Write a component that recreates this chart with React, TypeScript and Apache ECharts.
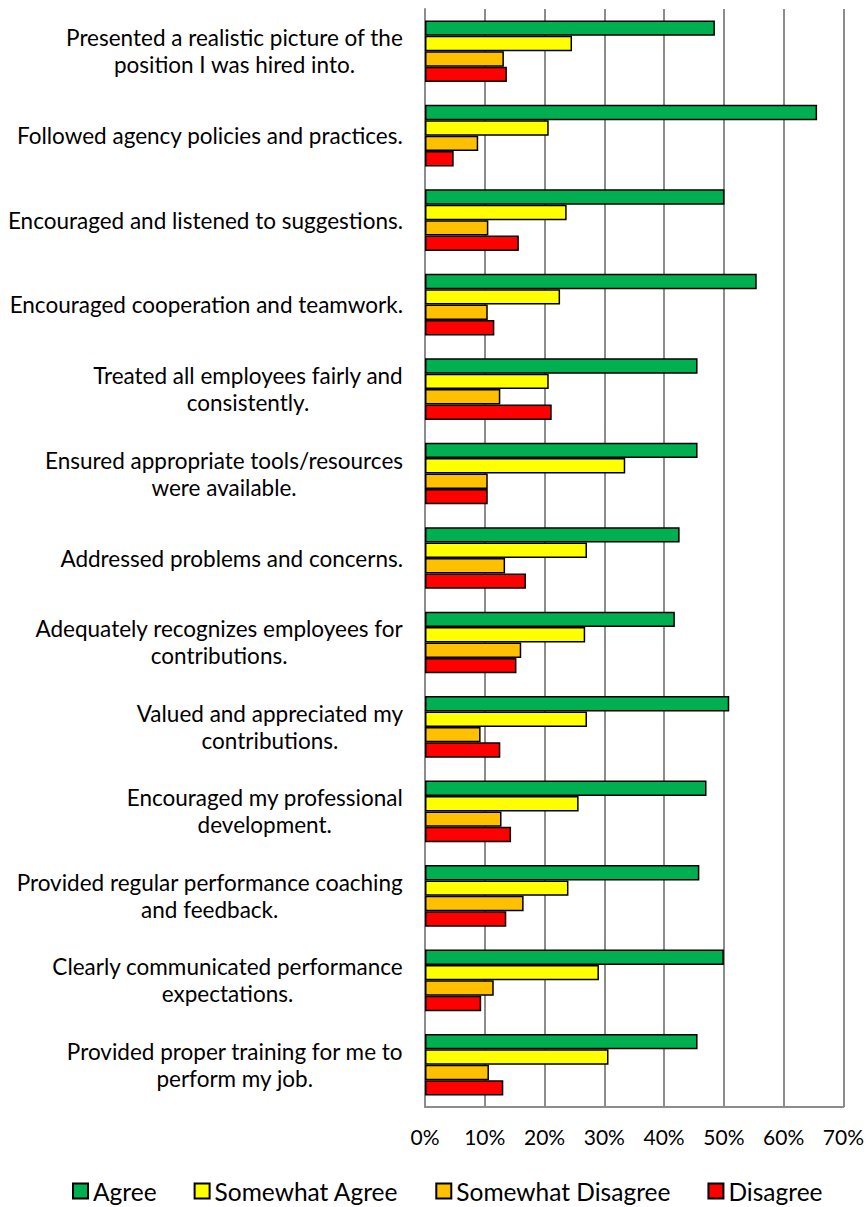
import React, { useEffect, useRef } from "react";
import * as echarts from "echarts";

const categories: string[] = [
  "Presented a realistic picture of the\nposition I was hired into.",
  "Followed agency policies and practices.",
  "Encouraged and listened to suggestions.",
  "Encouraged cooperation and teamwork.",
  "Treated all employees fairly and\nconsistently.",
  "Ensured appropriate tools/resources\nwere available.",
  "Addressed problems and concerns.",
  "Adequately recognizes employees for\ncontributions.",
  "Valued and appreciated my\ncontributions.",
  "Encouraged my professional\ndevelopment.",
  "Provided regular performance coaching\nand feedback.",
  "Clearly communicated performance\nexpectations.",
  "Provided proper training for me to\nperform my job.",
];

const seriesNames: string[] = ["Agree", "Somewhat Agree", "Somewhat Disagree", "Disagree"];

const agree: number[] = [48.5, 65.6, 50.1, 55.5, 45.6, 45.6, 42.6, 41.8, 50.9, 47.1, 45.9, 50.0, 45.6];
const somewhatAgree: number[] = [24.6, 20.7, 23.7, 22.6, 20.7, 33.5, 27.1, 26.8, 27.1, 25.7, 24.0, 29.1, 30.7];
const somewhatDisagree: number[] = [13.2, 8.9, 10.6, 10.5, 12.6, 10.5, 13.4, 16.1, 9.3, 12.8, 16.5, 11.5, 10.7];
const disagree: number[] = [13.7, 4.8, 15.7, 11.6, 21.2, 10.5, 16.9, 15.3, 12.6, 14.4, 13.6, 9.4, 13.1];

const colors: string[] = ["#00B050", "#FFFF00", "#FFC000", "#FF0000"];
const xTicks: number[] = [0, 10, 20, 30, 40, 50, 60, 70];

const FONT = "Lato";

export default function App() {
  const ref = useRef<HTMLDivElement>(null);
  useEffect(() => {
    document.body.style.margin = "0";
    if (!ref.current) return;
    const chart = echarts.init(ref.current, undefined, { renderer: "svg" });
    const data = [agree, somewhatAgree, somewhatDisagree, disagree];
    chart.setOption({
      animation: false,
      backgroundColor: "#ffffff",
      textStyle: { fontFamily: FONT, color: "#000" },
      grid: { left: 425, right: 22, top: 9, bottom: 100, containLabel: false },
      legend: {
        left: 67,
        top: 1172,
        itemWidth: 15,
        itemHeight: 15,
        itemGap: 37,
        icon: "rect",
        textStyle: { fontFamily: FONT, fontSize: 24.5, lineHeight: 28, color: "#000" },
        data: seriesNames,
      },
      xAxis: {
        type: "value",
        min: xTicks[0],
        max: xTicks[xTicks.length - 1],
        interval: 10,
        axisLine: { show: true, lineStyle: { color: "#8c8c8c", width: 2 } },
        axisTick: { show: false },
        splitLine: { show: true, lineStyle: { color: "#8c8c8c", width: 2 } },
        axisLabel: {
          formatter: (v: number) => `${v}%`,
          fontFamily: FONT,
          fontSize: 21,
          color: "#000",
          margin: 19,
        },
      },
      yAxis: {
        type: "category",
        inverse: true,
        data: categories,
        axisLine: { show: true, lineStyle: { color: "#8c8c8c", width: 2 } },
        axisTick: { show: false },
        splitLine: { show: false },
        axisLabel: {
          margin: 22,
          interval: 0,
          formatter: (v: string) =>
            v
              .split("\n")
              .map((l) => `{c|${l}}`)
              .join("\n"),
          rich: {
            c: {
              align: "center",
              fontFamily: FONT,
              fontSize: 22.5,
              lineHeight: 27,
              color: "#000",
            },
          },
        },
      },
      series: seriesNames.map((name, i) => ({
        name,
        type: "bar",
        data: data[i],
        barGap: "0%",
        barCategoryGap: "27%",
        itemStyle: { color: colors[i], borderColor: "#000", borderWidth: 1.5 },
      })),
    });
    return () => chart.dispose();
  }, []);
  return <div ref={ref} style={{ width: 867, height: 1207 }} />;
}
